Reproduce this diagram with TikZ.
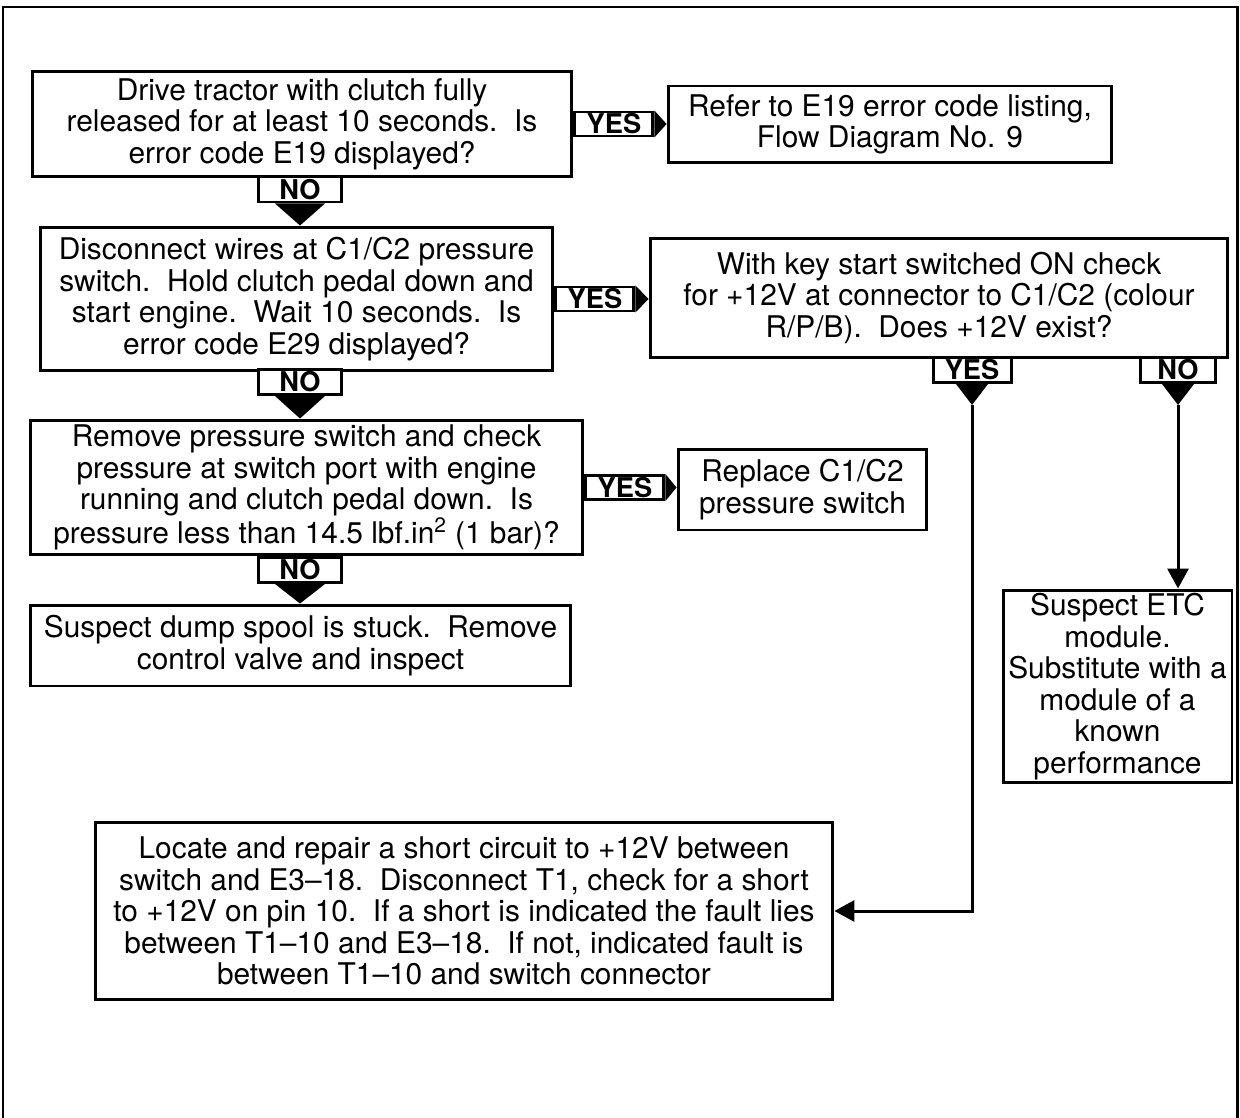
\documentclass[tikz,border=0pt]{standalone}
\usepackage{fontspec}
\setmainfont{TeX Gyre Heros}
\usetikzlibrary{arrows.meta,calc}

\begin{document}
\begin{tikzpicture}[
    x=0.02cm, y=-0.02cm,
    line width=1.7pt,
    every node/.style={font=\fontsize{17}{17.9}\selectfont},
    box/.style={rectangle, draw, line width=1.7pt, align=center, inner sep=1pt},
    tag/.style={rectangle, draw, fill=white, line width=1.7pt, inner sep=0pt, minimum width=1.56cm, minimum height=0.48cm, font=\fontsize{15.5}{15.5}\bfseries\selectfont},
    flow/.style={-{Triangle[length=0.4cm, width=0.42cm]}, line width=1.7pt}
]

% page frame, open at the bottom
\useasboundingbox (0,0) rectangle (1240,1118);
\draw (3,1118) |- (1237,7) -- (1237,1118);

% checks down the left side
\node[box, minimum width=10.8cm, minimum height=2.1cm] (drive) at (302,124) {Drive tractor with clutch fully\\released for at least 10 seconds.\ \ Is\\error code E19 displayed?};
\node[box, minimum width=10.26cm, minimum height=2.88cm] (disconnect) at (296.5,299) {Disconnect wires at C1/C2 pressure\\switch.\ \ Hold clutch pedal down and\\start engine.\ \ Wait 10 seconds.\ \ Is\\error code E29 displayed?};
\node[box, minimum width=11.06cm, minimum height=2.7cm] (pressure) at (306.5,487.5) {Remove pressure switch and check\\pressure at switch port with engine\\running and clutch pedal down.\ \ Is\\pressure less than 14.5 lbf.in\textsuperscript{2} (1 bar)?};
\node[box, minimum width=10.82cm, minimum height=1.62cm] (spool) at (300.5,645.5) {Suspect dump spool is stuck.\ \ Remove\\control valve and inspect};

% results on the right
\node[box, minimum width=8.88cm, minimum height=1.54cm] (refer) at (890,124.5) {Refer to E19 error code listing,\\Flow Diagram No. 9};
\node[box, minimum width=11.56cm, minimum height=2.4cm] (supply) at (939,298) {With key start switched ON check\\for +12V at connector to C1/C2 (colour\\R/P/B).\ \ Does +12V exist?};
\node[box, minimum width=4.98cm, minimum height=1.62cm] (replace) at (802.5,489.5) {Replace C1/C2\\pressure switch};
\node[box, minimum width=4.58cm, minimum height=3.86cm, inner sep=0pt] (etc) at (1117.5,686.5) {Suspect ETC\\module.\\Substitute with a\\module of a\\known\\performance};
\node[box, minimum width=14.76cm, minimum height=3.56cm] (short) at (464,911) {Locate and repair a short circuit to +12V between\\switch and E3--18.\ \ Disconnect T1, check for a short\\to +12V on pin 10.\ \ If a short is indicated the fault lies\\between T1--10 and E3--18.\ \ If not, indicated fault is\\between T1--10 and switch connector};

% YES tags pointing right
\node[tag, anchor=west] (yes1) at (drive.east) {YES};
\fill (yes1.north east) -- (yes1.south east) -- (refer.west |- yes1.east) -- cycle;
\node[tag, anchor=west] (yes2) at (disconnect.east) {YES};
\fill (yes2.north east) -- (yes2.south east) -- (supply.west |- yes2.east) -- cycle;
\node[tag, anchor=west] (yes3) at (pressure.east) {YES};
\fill (yes3.north east) -- (yes3.south east) -- (replace.west |- yes3.east) -- cycle;

% NO tags pointing down
\node[tag, minimum width=1.66cm, minimum height=0.5cm] (no1) at (300,189.5) {NO};
\fill ([xshift=-0.5cm]no1.south) -- ([xshift=0.5cm]no1.south) -- (no1.south |- disconnect.north) -- cycle;
\node[tag, minimum width=1.66cm, minimum height=0.5cm] (no2) at (300,382) {NO};
\fill ([xshift=-0.5cm]no2.south) -- ([xshift=0.5cm]no2.south) -- (no2.south |- pressure.north) -- cycle;
\node[tag, minimum width=1.66cm, minimum height=0.5cm] (no3) at (300,570) {NO};
\fill ([xshift=-0.5cm]no3.south) -- ([xshift=0.5cm]no3.south) -- (no3.south |- spool.north) -- cycle;

% branches under the +12V check
\node[tag, minimum height=0.5cm] (yes4) at (972,370) {YES};
\coordinate (yes4tip) at ([yshift=-0.42cm]yes4.south);
\fill ([xshift=-0.32cm]yes4.south) -- ([xshift=0.32cm]yes4.south) -- (yes4tip) -- cycle;
\node[tag, minimum width=1.5cm, minimum height=0.5cm] (no4) at (1178,370) {NO};
\coordinate (no4tip) at ([yshift=-0.42cm]no4.south);
\fill ([xshift=-0.32cm]no4.south) -- ([xshift=0.32cm]no4.south) -- (no4tip) -- cycle;

\draw[flow] (yes4tip) |- (short.east);
\draw[flow] (no4tip) -- (no4tip |- etc.north);

\end{tikzpicture}
\end{document}
